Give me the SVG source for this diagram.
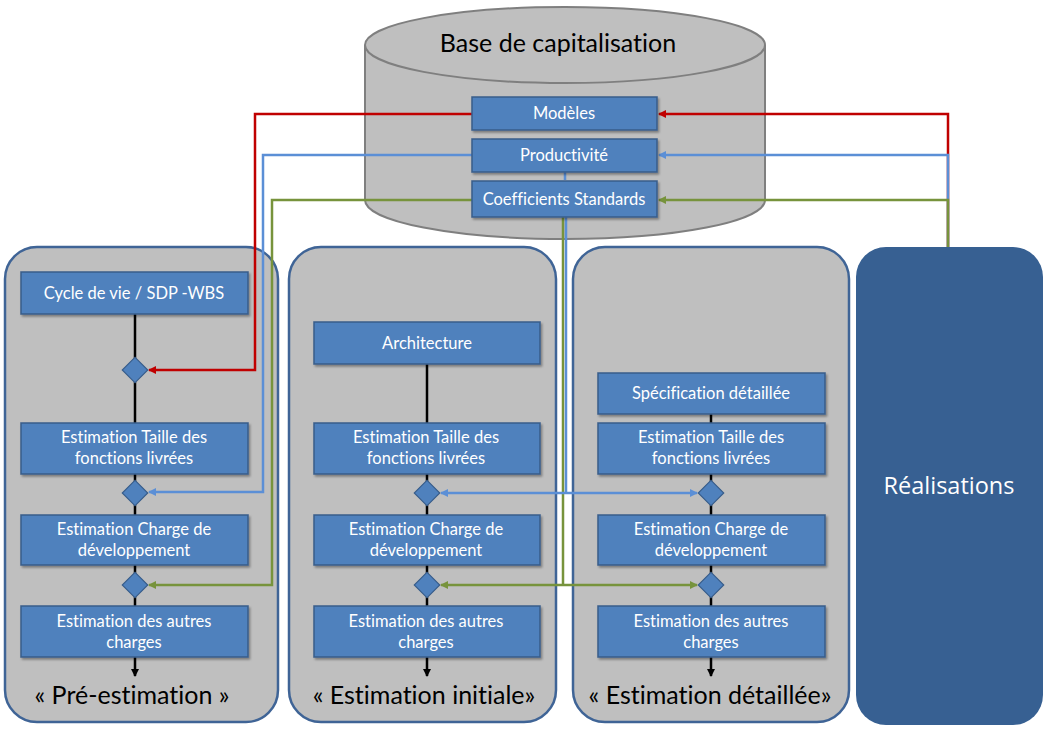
<svg xmlns="http://www.w3.org/2000/svg" width="1052" height="736" viewBox="0 0 1052 736">
<defs>
<style>
text{font-variant-ligatures:none}
.box{fill:#4f81bd;stroke:#385d8a;stroke-width:1.5;filter:url(#sh)}
.bt{font-family:Lato,"Liberation Sans",sans-serif;font-size:16.5px;fill:#fff;text-anchor:middle}
.col{fill:#bfbfbf;stroke:#3f6496;stroke-width:2.5}
.lab{font-family:Lato,"Liberation Sans",sans-serif;font-size:25px;fill:#000;text-anchor:middle}
.dia{fill:#4f81bd;stroke:#385d8a;stroke-width:1.2}
.blk{stroke:#000;stroke-width:2.5;fill:none}
.red{stroke:#c00000;stroke-width:2.5;fill:none}
.blu{stroke:#5b8fd6;stroke-width:2.5;fill:none}
.grn{stroke:#77933c;stroke-width:2.5;fill:none}
</style>
<filter id="sh" x="-10%" y="-20%" width="130%" height="160%"><feDropShadow dx="1.5" dy="2" stdDeviation="1.2" flood-opacity="0.35"/></filter>
<marker id="aR" markerWidth="8" markerHeight="8" refX="7" refY="4" orient="auto" markerUnits="userSpaceOnUse"><path d="M0,0 L8,4 L0,8 z" fill="#c00000"/></marker>
<marker id="aB" markerWidth="8" markerHeight="8" refX="7" refY="4" orient="auto-start-reverse" markerUnits="userSpaceOnUse"><path d="M0,0 L8,4 L0,8 z" fill="#5b8fd6"/></marker>
<marker id="aG" markerWidth="8" markerHeight="8" refX="7" refY="4" orient="auto-start-reverse" markerUnits="userSpaceOnUse"><path d="M0,0 L8,4 L0,8 z" fill="#77933c"/></marker>
<marker id="aK" markerWidth="8" markerHeight="8" refX="7" refY="4" orient="auto" markerUnits="userSpaceOnUse"><path d="M0,0 L8,4 L0,8 z" fill="#000"/></marker>
</defs>
<rect width="1052" height="736" fill="#fff"/>

<g id="base">
<path d="M365,45 L365,200 A200,39 0 0 0 765,200 L765,45" fill="#bfbfbf" stroke="#7f7f7f" stroke-width="2"/>
<ellipse cx="565" cy="45" rx="200" ry="38" fill="#bfbfbf" stroke="#7f7f7f" stroke-width="2"/>
<text x="558" y="52" font-family="Lato,'Liberation Sans',sans-serif" font-size="25" text-anchor="middle" fill="#000">Base de capitalisation</text>
</g>

<g id="col1"><rect class="col" x="5" y="247" width="273" height="475" rx="32"/></g>
<g id="col2"><rect class="col" x="289" y="247" width="267" height="475" rx="32"/></g>
<g id="col3"><rect class="col" x="573" y="247" width="276" height="475" rx="32"/></g>
<g id="realisations">
<rect x="856" y="247" width="187" height="478" rx="30" fill="#376092"/>
<text x="949" y="494" font-family="'Open Sans','Liberation Sans',sans-serif" font-size="23.5" fill="#fff" text-anchor="middle">Réalisations</text>
</g>

<g id="flows">
<line class="blk" x1="135" y1="314" x2="135" y2="676" marker-end="url(#aK)"/>
<line class="blk" x1="427" y1="364" x2="427" y2="676" marker-end="url(#aK)"/>
<line class="blk" x1="711" y1="414" x2="711" y2="676" marker-end="url(#aK)"/>
</g>

<g id="connectors">
<polyline class="red" points="472,114 255,114 255,370 149,370" marker-end="url(#aR)"/>
<polyline class="blu" points="472,155 263,155 263,492 149,492" marker-end="url(#aB)"/>
<polyline class="grn" points="472,200 272,200 272,585 149,585" marker-end="url(#aG)"/>
<polyline class="red" points="948,247 948,114 659,114" marker-end="url(#aR)"/>
<polyline class="blu" points="948,247 948,155 659,155" marker-end="url(#aB)"/>
<polyline class="grn" points="948,247 948,200 659,200" marker-end="url(#aG)"/>
<line class="grn" x1="563" y1="217" x2="563" y2="585"/>
<line class="blu" x1="565" y1="172" x2="565" y2="180"/>
<line class="blu" x1="566" y1="217" x2="566" y2="493"/>
<line class="blu" x1="441" y1="493" x2="697" y2="493" marker-start="url(#aB)" marker-end="url(#aB)"/>
<line class="grn" x1="441" y1="585" x2="697" y2="585" marker-start="url(#aG)" marker-end="url(#aG)"/>
</g>

<g id="modeles"><rect class="box" x="472" y="97" width="185" height="33"/><text class="bt" x="564" y="119">Modèles</text></g>
<g id="productivite"><rect class="box" x="472" y="139" width="185" height="33"/><text class="bt" x="564" y="161">Productivité</text></g>
<g id="coefficients"><rect class="box" x="472" y="181" width="185" height="36"/><text class="bt" x="564" y="205">Coefficients Standards</text></g>

<g id="c1-cycle"><rect class="box" x="21" y="272" width="227" height="42"/><text class="bt" x="134" y="299">Cycle de vie / SDP -WBS</text></g>
<g id="c1-d1"><rect class="dia" x="126" y="361" width="18" height="18" transform="rotate(45 135 370)"/></g>
<g id="c1-taille"><rect class="box" x="21" y="423" width="227" height="51"/><text class="bt" x="134" y="443">Estimation Taille des</text><text class="bt" x="134" y="464">fonctions livrées</text></g>
<g id="c1-d2"><rect class="dia" x="126" y="484" width="18" height="18" transform="rotate(45 135 493)"/></g>
<g id="c1-charge"><rect class="box" x="21" y="515" width="227" height="50"/><text class="bt" x="134" y="535">Estimation Charge de</text><text class="bt" x="134" y="556">développement</text></g>
<g id="c1-d3"><rect class="dia" x="126" y="576" width="18" height="18" transform="rotate(45 135 585)"/></g>
<g id="c1-autres"><rect class="box" x="21" y="606" width="227" height="51"/><text class="bt" x="134" y="627">Estimation des autres</text><text class="bt" x="134" y="648">charges</text></g>
<text class="lab" x="132" y="704">« Pré-estimation »</text>

<g id="c2-archi"><rect class="box" x="314" y="322" width="226" height="42"/><text class="bt" x="427" y="349">Architecture</text></g>
<g id="c2-taille"><rect class="box" x="314" y="423" width="226" height="51"/><text class="bt" x="426" y="443">Estimation Taille des</text><text class="bt" x="426" y="464">fonctions livrées</text></g>
<g id="c2-d2"><rect class="dia" x="418" y="484" width="18" height="18" transform="rotate(45 427 493)"/></g>
<g id="c2-charge"><rect class="box" x="314" y="515" width="226" height="50"/><text class="bt" x="426" y="535">Estimation Charge de</text><text class="bt" x="426" y="556">développement</text></g>
<g id="c2-d3"><rect class="dia" x="418" y="576" width="18" height="18" transform="rotate(45 427 585)"/></g>
<g id="c2-autres"><rect class="box" x="314" y="606" width="226" height="51"/><text class="bt" x="426" y="627">Estimation des autres</text><text class="bt" x="426" y="648">charges</text></g>
<text class="lab" x="424" y="704">« Estimation initiale»</text>

<g id="c3-spec"><rect class="box" x="598" y="373" width="227" height="41"/><text class="bt" x="711" y="399">Spécification détaillée</text></g>
<g id="c3-taille"><rect class="box" x="598" y="423" width="227" height="51"/><text class="bt" x="711" y="443">Estimation Taille des</text><text class="bt" x="711" y="464">fonctions livrées</text></g>
<g id="c3-d2"><rect class="dia" x="702" y="484" width="18" height="18" transform="rotate(45 711 493)"/></g>
<g id="c3-charge"><rect class="box" x="598" y="515" width="227" height="50"/><text class="bt" x="711" y="535">Estimation Charge de</text><text class="bt" x="711" y="556">développement</text></g>
<g id="c3-d3"><rect class="dia" x="702" y="576" width="18" height="18" transform="rotate(45 711 585)"/></g>
<g id="c3-autres"><rect class="box" x="598" y="606" width="227" height="51"/><text class="bt" x="711" y="627">Estimation des autres</text><text class="bt" x="711" y="648">charges</text></g>
<text class="lab" x="710" y="704">« Estimation détaillée»</text>
</svg>
